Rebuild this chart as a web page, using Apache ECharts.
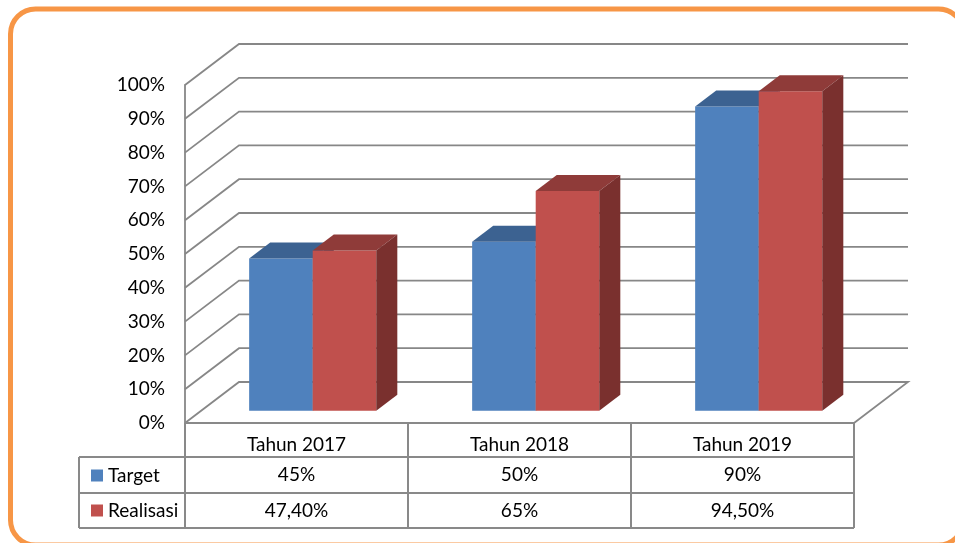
<!DOCTYPE html>
<html>
<head>
<meta charset="utf-8">
<script src="https://cdn.jsdelivr.net/npm/echarts@6/dist/echarts.min.js"></script>
<style>
  html, body { margin: 0; padding: 0; background: #fff; }
  #chart { width: 955px; height: 543px; }
</style>
</head>
<body>
<div id="chart"></div>
<script>
var years = ['Tahun 2017', 'Tahun 2018', 'Tahun 2019'];
var target = [45, 50, 90];
var realisasi = [47.4, 65, 94.5];
var yTicks = [0, 10, 20, 30, 40, 50, 60, 70, 80, 90, 100];

// depth of the 3d box (oblique projection)
var DX = 54, DY = -41;
var FONT = 'Lato, "Liberation Sans", sans-serif';
var FS = 19;
var GRID_COLOR = '#878787';

function fmt(v) {
  var r = Math.round(v * 100) / 100;
  if (r === Math.round(r)) return r + '%';
  return r.toFixed(2).replace('.', ',') + '%';
}

var chart = echarts.init(document.getElementById('chart'));

function wallItem(params, api) {
  var cs = params.coordSys;
  var y = api.coord([0, api.value(1)])[1];
  var pts = [[cs.x, y], [cs.x + DX, y + DY], [cs.x + cs.width + DX, y + DY]];
  if (api.value(1) === 0) pts.push([cs.x + cs.width, y]);
  return {
    type: 'polyline',
    shape: {points: pts},
    style: {stroke: GRID_COLOR, lineWidth: 1.8, fill: null},
  };
}

function barRenderer(side, colors) {
  return function(params, api) {
    var i = api.value(0);
    var p0 = api.coord([i, 0]);
    var p1 = api.coord([i, api.value(1)]);
    var band = api.size([1, 0])[0];
    var w = band * 0.285;
    var sx = DX * 0.3, sy = DY * 0.3;
    var bx = DX * 0.39, by = DY * 0.39;
    var x0 = p0[0] + (side === 0 ? -w : 0) + sx;
    var x1 = x0 + w;
    var yb = p0[1] + sy;
    var yt = p1[1] + sy;
    return {
      type: 'group',
      children: [
        {type: 'rect', shape: {x: x0, y: yt, width: w, height: yb - yt},
          style: {fill: colors[0]}},
        {type: 'polygon', shape: {points: [[x0, yt], [x1, yt], [x1 + bx, yt + by], [x0 + bx, yt + by]]},
          style: {fill: colors[1]}},
        {type: 'polygon', shape: {points: [[x1, yt], [x1 + bx, yt + by], [x1 + bx, yb + by], [x1, yb]]},
          style: {fill: colors[2]}},
      ],
    };
  };
}

function tableItem(params, api) {
  var i = api.value(0);
  var p0 = api.coord([i, 0]);
  var band = api.size([1, 0])[0];
  var x0 = p0[0] - band / 2, x1 = p0[0] + band / 2;
  var y0 = p0[1], y1 = y0 + 34, y2 = y0 + 70, y3 = y0 + 105;
  var ls = {stroke: '#898989', lineWidth: 2};
  var ts = {fontSize: FS, fontFamily: FONT, fill: '#000', align: 'center', verticalAlign: 'middle'};
  var kids = [
    {type: 'line', shape: {x1: x0, y1: y0, x2: x1, y2: y0}, style: ls},
    {type: 'line', shape: {x1: x0, y1: y1, x2: x1, y2: y1}, style: ls},
    {type: 'line', shape: {x1: x0, y1: y2, x2: x1, y2: y2}, style: ls},
    {type: 'line', shape: {x1: x0, y1: y3, x2: x1, y2: y3}, style: ls},
    {type: 'line', shape: {x1: x0, y1: y0, x2: x0, y2: y3}, style: ls},
    {type: 'text', style: echarts.util.extend({text: fmt(target[i]), x: p0[0], y: (y1 + y2) / 2}, ts)},
    {type: 'text', style: echarts.util.extend({text: fmt(realisasi[i]), x: p0[0], y: (y2 + y3) / 2}, ts)},
  ];
  if (i === years.length - 1) {
    kids.push({type: 'line', shape: {x1: x1, y1: y0, x2: x1, y2: y3}, style: ls});
  }
  if (i === 0) {
    var lx = x0 - 106;
    kids.push({type: 'line', shape: {x1: lx, y1: y1, x2: x0, y2: y1}, style: ls});
    kids.push({type: 'line', shape: {x1: lx, y1: y2, x2: x0, y2: y2}, style: ls});
    kids.push({type: 'line', shape: {x1: lx, y1: y3, x2: x0, y2: y3}, style: ls});
    kids.push({type: 'line', shape: {x1: lx, y1: y1, x2: lx, y2: y3}, style: ls});
  }
  return {type: 'group', children: kids};
}

var blue = ['#4F81BD', '#3C6291', '#34557F'];
var red = ['#C0504D', '#8F3B39', '#7A302E'];

var options = {
  animation: false,
  backgroundColor: '#fff',
  graphic: [{
    type: 'rect',
    shape: {x: 10.5, y: 9, width: 953, height: 536, r: 25},
    style: {fill: null, stroke: '#F79646', lineWidth: 5},
    z: 100,
  }],
  legend: {
    orient: 'vertical',
    left: 86,
    top: 460,
    itemWidth: 12,
    itemHeight: 12,
    itemGap: 14,
    icon: 'rect',
    selectedMode: false,
    textStyle: {fontSize: FS, fontFamily: FONT, color: '#000', lineHeight: 21},
    data: ['Target', 'Realisasi'],
  },
  grid: {left: 185, right: 101, top: 85, bottom: 120},
  xAxis: {
    type: 'category',
    data: years,
    axisLine: {show: false},
    axisTick: {show: false},
    axisLabel: {fontSize: FS, fontFamily: FONT, color: '#000', margin: 12},
  },
  yAxis: {
    type: 'value',
    min: 0,
    max: 100,
    interval: 10,
    axisLine: {show: true, lineStyle: {color: GRID_COLOR, width: 1.8}},
    axisTick: {show: false},
    splitLine: {show: false},
    axisLabel: {formatter: '{value}%', fontSize: FS, fontFamily: FONT, color: '#000', margin: 20,
      padding: [3, 0, 0, 0]},
  },
  series: [
    {
      name: 'walls',
      type: 'custom',
      silent: true,
      z: 1,
      renderItem: wallItem,
      data: yTicks.map(function(v) { return [0, v]; }),
    },
    {
      name: 'Target',
      type: 'custom',
      z: 2,
      itemStyle: {color: blue[0]},
      renderItem: barRenderer(0, blue),
      data: target.map(function(v, i) { return [i, v]; }),
    },
    {
      name: 'Realisasi',
      type: 'custom',
      z: 3,
      itemStyle: {color: red[0]},
      renderItem: barRenderer(1, red),
      data: realisasi.map(function(v, i) { return [i, v]; }),
    },
    {
      name: 'table',
      type: 'custom',
      silent: true,
      z: 4,
      renderItem: tableItem,
      data: years.map(function(y, i) { return [i, 0]; }),
    },
  ],
};
chart.setOption(options);
</script>
</body>
</html>
